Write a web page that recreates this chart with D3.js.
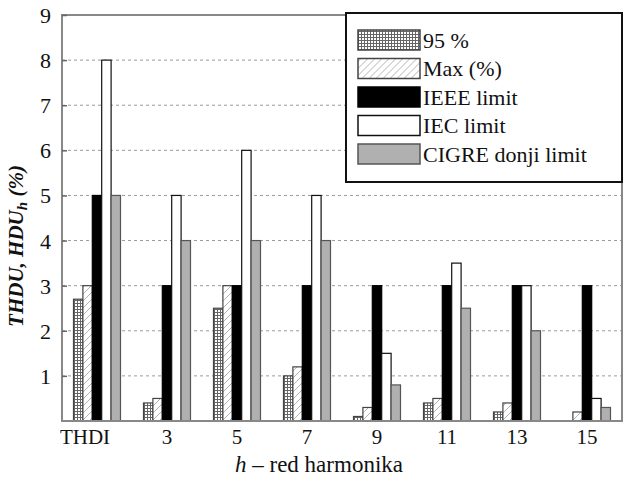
<!DOCTYPE html>
<html>
<head>
<meta charset="utf-8">
<script src="https://cdn.jsdelivr.net/npm/d3@7"></script>
<style>
  html, body { margin: 0; padding: 0; background: #fff; }
  svg { display: block; }
  svg text { font-family: "Liberation Serif", "DejaVu Serif", "Times New Roman", Times, serif; }
</style>
</head>
<body>
<svg id="chart" width="624" height="486"></svg>
<script>
// Harmonic categories along the x axis
const categories = ["THDI", "3", "5", "7", "9", "11", "13", "15"];

// Series names (legend order)
const seriesNames = ["95 %", "Max (%)", "IEEE limit", "IEC limit", "CIGRE donji limit"];

// Measured and limit values in %, one entry per category
const p95Values   = [2.7, 0.4, 2.5, 1.0, 0.1, 0.4, 0.2, 0.0];
const maxValues   = [3.0, 0.5, 3.0, 1.2, 0.3, 0.5, 0.4, 0.2];
const ieeeValues  = [5.0, 3.0, 3.0, 3.0, 3.0, 3.0, 3.0, 3.0];
const iecValues   = [8.0, 5.0, 6.0, 5.0, 1.5, 3.5, 3.0, 0.5];
const cigreValues = [5.0, 4.0, 4.0, 4.0, 0.8, 2.5, 2.0, 0.3];

const yTicks = [1, 2, 3, 4, 5, 6, 7, 8, 9];

const seriesValues = [p95Values, maxValues, ieeeValues, iecValues, cigreValues];

const SERIF = "Liberation Serif";

const svg = d3.select("#chart").attr("font-family", SERIF);
const plot = { left: 62, right: 622, top: 15, bottom: 421 };

const x0 = d3.scaleBand().domain(categories).range([plot.left, plot.right]).padding(0);
const x1 = d3.scaleBand().domain(seriesNames).range([11.5, 58.5]).padding(0);
const y = d3.scaleLinear().domain([0, 9]).range([plot.bottom, plot.top]);

// Fill patterns
const defs = svg.append("defs");
const grid = defs.append("pattern").attr("id", "pat-grid")
  .attr("patternUnits", "userSpaceOnUse").attr("width", 3).attr("height", 3);
grid.append("rect").attr("width", 3).attr("height", 3).attr("fill", "#fff");
grid.append("path").attr("d", "M0,0.5H3M0.5,0V3").attr("stroke", "#666").attr("stroke-width", 1);

const hatch = defs.append("pattern").attr("id", "pat-hatch")
  .attr("patternUnits", "userSpaceOnUse").attr("width", 7).attr("height", 7);
hatch.append("rect").attr("width", 7).attr("height", 7).attr("fill", "#fff");
hatch.append("path").attr("d", "M-1,8L8,-1M-1,1L1,-1M6,8L8,6")
  .attr("stroke", "#aaa").attr("stroke-width", 0.9);

const styles = [
  { fill: "url(#pat-grid)", stroke: "#444" },
  { fill: "url(#pat-hatch)", stroke: "#444" },
  { fill: "#000", stroke: "#000" },
  { fill: "#fff", stroke: "#111" },
  { fill: "#b0b0b0", stroke: "#555" }
];

// Dashed horizontal gridlines
svg.append("g").selectAll("line").data(yTicks.filter(t => t < 9)).join("line")
  .attr("x1", plot.left).attr("x2", plot.right)
  .attr("y1", d => y(d)).attr("y2", d => y(d))
  .attr("stroke", "#9a9a9a").attr("stroke-width", 1)
  .attr("stroke-dasharray", "3,3");

// Bars
const groups = svg.append("g").selectAll("g").data(categories).join("g")
  .attr("transform", d => `translate(${x0(d)},0)`);

groups.selectAll("rect")
  .data((c, ci) => seriesNames.map((s, si) => ({ s, si, v: seriesValues[si][ci] })).filter(d => d.v > 0))
  .join("rect")
  .attr("x", d => x1(d.s))
  .attr("width", x1.bandwidth())
  .attr("y", d => y(d.v))
  .attr("height", d => y(0) - y(d.v))
  .attr("fill", d => styles[d.si].fill)
  .attr("stroke", d => styles[d.si].stroke)
  .attr("stroke-width", 1.2);

// Plot frame
svg.append("rect")
  .attr("x", plot.left).attr("y", plot.top)
  .attr("width", plot.right - plot.left).attr("height", plot.bottom - plot.top)
  .attr("fill", "none").attr("stroke", "#888").attr("stroke-width", 2);

// Y axis (ticks pointing inward)
const yAxis = svg.append("g").attr("transform", `translate(${plot.left},0)`)
  .call(d3.axisLeft(y).tickValues(yTicks).tickSize(-5).tickPadding(11).tickFormat(d3.format("d")));
yAxis.attr("font-family", SERIF);
yAxis.select(".domain").remove();
yAxis.selectAll(".tick line").attr("stroke", "#666").attr("stroke-width", 1.5);
yAxis.selectAll(".tick text")
  .attr("font-family", SERIF).attr("font-size", 22).attr("fill", "#111").attr("dy", "0.34em");

// X axis labels
const xAxis = svg.append("g").attr("transform", `translate(0,${plot.bottom})`)
  .call(d3.axisBottom(x0).tickSize(0).tickPadding(8));
xAxis.attr("font-family", SERIF);
xAxis.select(".domain").remove();
xAxis.selectAll(".tick text")
  .attr("font-family", SERIF).attr("font-size", 21).attr("fill", "#111")
  .attr("dx", d => d === "THDI" ? -12 : 0);

// Axis titles
const yTitle = svg.append("text")
  .attr("transform", "translate(23,246) rotate(-90)")
  .attr("text-anchor", "middle").attr("fill", "#111")
  .attr("font-family", SERIF).attr("font-size", 21)
  .attr("font-style", "italic").attr("font-weight", "bold");
yTitle.append("tspan").text("THDU, HDU");
yTitle.append("tspan").attr("dy", 4).attr("font-size", 15).text("h");
yTitle.append("tspan").attr("dy", -4).text(" (%)");

const xTitle = svg.append("text")
  .attr("x", 319).attr("y", 472).attr("text-anchor", "middle").attr("fill", "#111")
  .attr("font-family", SERIF).attr("font-size", 23);
xTitle.append("tspan").attr("font-style", "italic").text("h");
xTitle.append("tspan").text(" – red harmonika");

// Legend
const legend = svg.append("g");
legend.append("rect")
  .attr("x", 346).attr("y", 13).attr("width", 276).attr("height", 169)
  .attr("fill", "#fff").attr("stroke", "#111").attr("stroke-width", 2);

const rows = legend.selectAll("g.row").data(seriesNames).join("g")
  .attr("class", "row")
  .attr("transform", (d, i) => `translate(358,${40 + i * 28.5})`);
rows.append("rect")
  .attr("x", 0).attr("y", -10).attr("width", 62).attr("height", 20)
  .attr("fill", (d, i) => styles[i].fill)
  .attr("stroke", (d, i) => styles[i].stroke).attr("stroke-width", 1.5);
rows.append("text")
  .attr("x", 65).attr("y", 0).attr("dy", "0.35em").attr("fill", "#111")
  .attr("font-family", SERIF).attr("font-size", 22).text(d => d);
</script>
</body>
</html>
